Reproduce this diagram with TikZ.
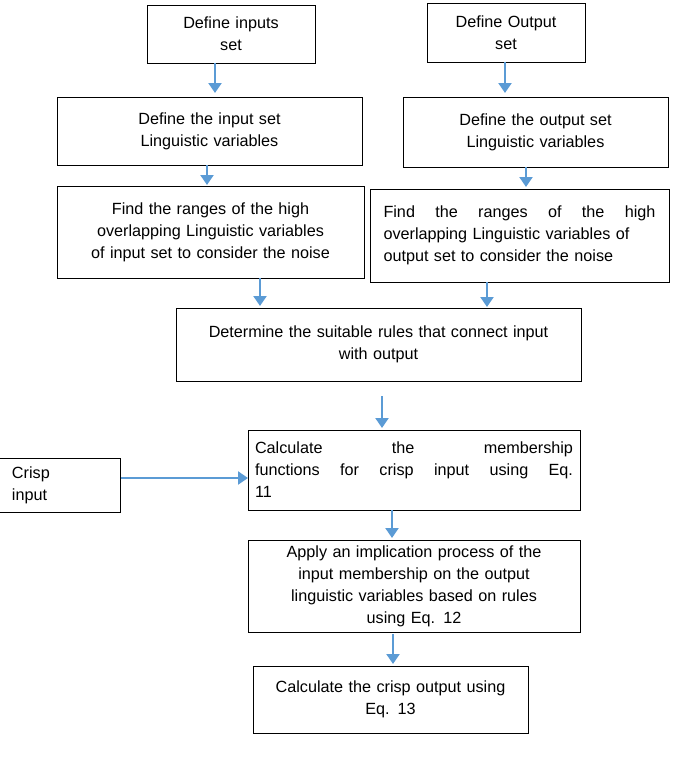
\documentclass[tikz,border=0pt]{standalone}
\usepackage{fontspec}
\setmainfont{Liberation Sans}
\usetikzlibrary{arrows.meta}
\begin{document}
\begin{tikzpicture}[x=1pt,y=-1pt,
  box/.style={draw,line width=0.8pt,inner sep=0pt,font=\fontsize{16.2}{22}\selectfont},
  arr/.style={draw={rgb,255:red,91;green,155;blue,213},line width=2.2pt,-{Triangle[length=10pt,width=13pt]}}]
\useasboundingbox (0,0) rectangle (685,760);
\newcommand{\bx}[6]{\node[box,minimum width=#4-#2,minimum height=#5-#3,text width=#4-#2-12,align=center] (#1) at ({(#2+#4)/2},{(#3+#5)/2}) {#6};}
\bx{a}{147}{5}{315}{63}{Define inputs\\ set}
\bx{b}{427}{3}{585}{62}{Define Output\\ set}
\bx{c}{57}{97}{362}{165}{Define the input set\\ Linguistic variables}
\bx{d}{403}{97}{668}{167}{Define the output set\\ Linguistic variables}
\bx{e}{57}{186}{364}{278}{Find the ranges of the high\\ overlapping Linguistic variables\\ of input set to consider the noise}
\node[box,minimum width=299,minimum height=93,text width=272,align=left] (f) at (519.5,235.5) {Find\hfill the\hfill ranges\hfill of\hfill the\hfill high\\ overlapping Linguistic variables of\\ output set to consider the noise};
\bx{g}{176}{308}{581}{381}{Determine the suitable rules that connect input\\ with output}
\node[box,minimum width=121,minimum height=54,text width=96,align=left] (h) at (60,485) {Crisp\\ input};
\node[box,minimum width=332,minimum height=80,text width=318,align=left] (i) at (414,470) {Calculate\hfill the\hfill membership\\ functions\hfill for\hfill crisp\hfill input\hfill using\hfill Eq.\\ 11};
\bx{j}{248}{540}{580}{632}{Apply an implication process of the\\ input membership on the output\\ linguistic variables based on rules\\ using Eq. 12}
\bx{k}{253}{666}{528}{733}{Calculate the crisp output using\\ Eq. 13}
\draw[arr] (215,63) -- (215,93);
\draw[arr] (505,62) -- (505,93);
\draw[arr] (207,165) -- (207,185);
\draw[arr] (526,167) -- (526,187);
\draw[arr] (260,278) -- (260,306);
\draw[arr] (487,282) -- (487,307);
\draw[arr] (382,396) -- (382,428);
\draw[arr] (h.east |- 0,478) -- (248,478);
\draw[arr] (392,510) -- (392,538);
\draw[arr] (393,634) -- (393,664);
\end{tikzpicture}
\end{document}
